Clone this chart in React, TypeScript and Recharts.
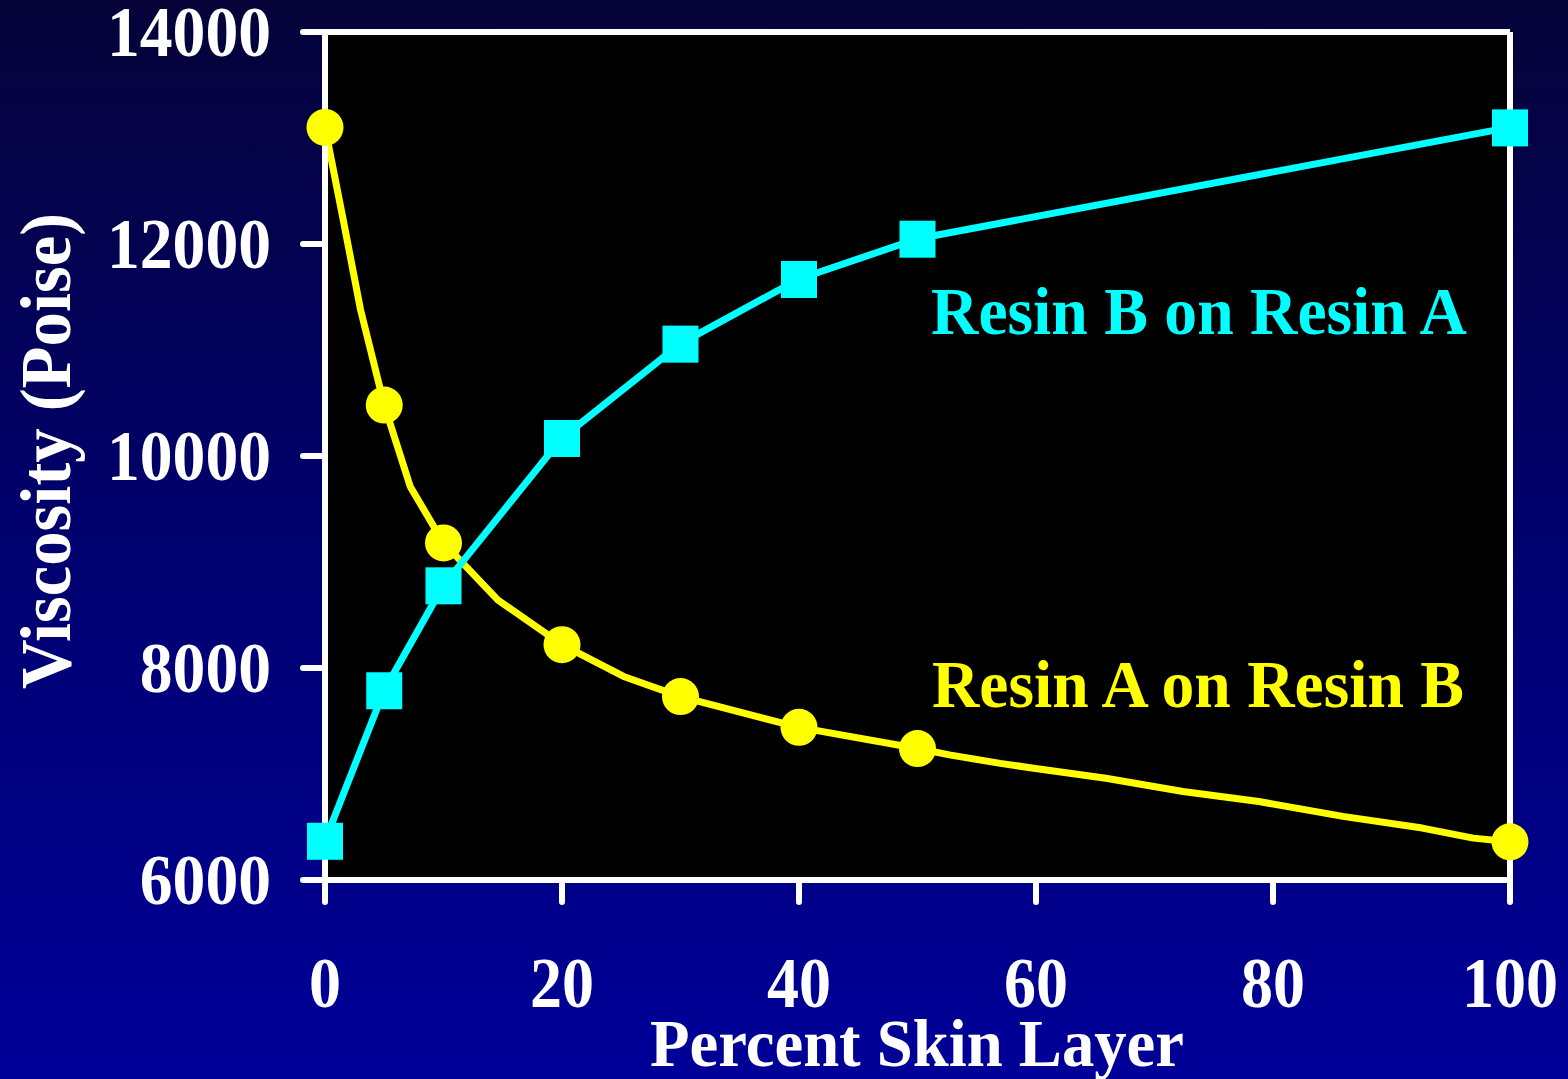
import React from "react";
import {
  CartesianGrid,
  ComposedChart,
  Line,
  ReferenceLine,
  XAxis,
  YAxis,
} from "recharts";

// measured points (percent skin layer)
const percentSkin = [0, 5, 10, 20, 30, 40, 50, 100];
const resinBonA = [6370, 7790, 8780, 10170, 11060, 11670, 12050, 13100];
const resinAonB = [13100, 10480, 9180, 8220, 7730, 7440, 7240, 6360];

// the yellow curve is drawn through extra bends between the markers
const curveSkin = [
  0, 1.5, 3, 5, 7.2, 10, 14.6, 20, 25.2, 30, 40, 50, 52.7, 57, 59.8, 65.9,
  72.4, 78.8, 85.9, 92.6, 96.9, 100,
];
const curveAonB = [
  13100, 12250, 11380, 10480, 9710, 9180, 8640, 8220, 7920, 7730, 7440, 7240,
  7180, 7100, 7055, 6960, 6835, 6740, 6600, 6490, 6395, 6360,
];

const xTicks = [0, 20, 40, 60, 80, 100];
const yTicks = [6000, 8000, 10000, 12000, 14000];

const W = 1568;
const H = 1079;
const serif = '"Liberation Serif", "Times New Roman", serif';

const bOnA = percentSkin.map((x, i) => ({ x, v: resinBonA[i] }));
const aOnB = percentSkin.map((x, i) => ({ x, v: resinAonB[i] }));
const aOnBCurve = curveSkin.map((x, i) => ({ x, v: curveAonB[i] }));

const axisLine = { stroke: "#ffffff", strokeWidth: 6 };
const tickLine = { stroke: "#ffffff", strokeWidth: 6, strokeLinecap: "round" as const };

function YTick(props: any) {
  const { x, y, payload } = props;
  const s = String(payload.value);
  return (
    <text
      x={x}
      y={y + 24}
      textAnchor="end"
      fill="#ffffff"
      fontFamily={serif}
      fontWeight="bold"
      fontSize={72}
      textLength={s.length * 32.8}
      lengthAdjust="spacingAndGlyphs"
    >
      {s}
    </text>
  );
}

function XTick(props: any) {
  const { x, y, payload } = props;
  const s = String(payload.value);
  return (
    <text
      x={x}
      y={y + 105}
      textAnchor="middle"
      fill="#ffffff"
      fontFamily={serif}
      fontWeight="bold"
      fontSize={72}
      textLength={s.length * 32}
      lengthAdjust="spacingAndGlyphs"
    >
      {s}
    </text>
  );
}

function SquareDot(props: any) {
  const { cx, cy } = props;
  if (cx == null || cy == null) return null;
  return <rect x={cx - 18} y={cy - 18} width={36} height={37} fill="#00ffff" />;
}

export default function App() {
  return (
    <div
      style={{
        position: "fixed",
        left: 0,
        top: 0,
        width: W,
        height: H,
        background:
          "linear-gradient(to bottom, #050338 0%, #00006e 50%, #000098 100%)",
      }}
    >
      <ComposedChart
        width={W}
        height={H}
        margin={{ top: 32, right: 58, bottom: 79, left: 125 }}
      >
        <CartesianGrid fill="#000000" stroke="none" />
        <XAxis
          type="number"
          dataKey="x"
          domain={[0, 100]}
          ticks={xTicks}
          interval={0}
          height={120}
          tickSize={22}
          tickMargin={0}
          axisLine={axisLine}
          tickLine={tickLine}
          tick={<XTick />}
        />
        <YAxis
          type="number"
          domain={[6000, 14000]}
          ticks={yTicks}
          interval={0}
          width={200}
          tickSize={22}
          tickMargin={32}
          axisLine={axisLine}
          tickLine={tickLine}
          tick={<YTick />}
        />
        <ReferenceLine y={14000} stroke="#ffffff" strokeWidth={6} />
        <ReferenceLine x={100} stroke="#ffffff" strokeWidth={6} />
        <Line
          data={aOnBCurve}
          dataKey="v"
          type="linear"
          stroke="#ffff00"
          strokeWidth={7}
          strokeLinejoin="round"
          dot={false}
          activeDot={false}
          isAnimationActive={false}
        />
        <Line
          data={aOnB}
          dataKey="v"
          type="linear"
          stroke="none"
          dot={{ r: 18.5, fill: "#ffff00", stroke: "none" }}
          activeDot={false}
          isAnimationActive={false}
        />
        <Line
          data={bOnA}
          dataKey="v"
          type="linear"
          stroke="#00ffff"
          strokeWidth={7}
          strokeLinejoin="round"
          dot={<SquareDot />}
          activeDot={false}
          isAnimationActive={false}
        />
      </ComposedChart>
      <svg
        width={W}
        height={H}
        style={{ position: "absolute", left: 0, top: 0, pointerEvents: "none" }}
        fontFamily={serif}
        fontWeight="bold"
      >
        <text x={931} y={334} fill="#00ffff" fontSize={67} textLength={536} lengthAdjust="spacingAndGlyphs">
          Resin B on Resin A
        </text>
        <text x={932} y={707} fill="#ffff00" fontSize={67} textLength={532} lengthAdjust="spacingAndGlyphs">
          Resin A on Resin B
        </text>
        <text x={650} y={1066} fill="#ffffff" fontSize={68} textLength={534} lengthAdjust="spacingAndGlyphs">
          Percent Skin Layer
        </text>
        <text
          x={0}
          y={0}
          transform="translate(70,451) rotate(-90)"
          textAnchor="middle"
          fill="#ffffff"
          fontSize={72}
          textLength={476}
          lengthAdjust="spacingAndGlyphs"
        >
          Viscosity (Poise)
        </text>
      </svg>
    </div>
  );
}
